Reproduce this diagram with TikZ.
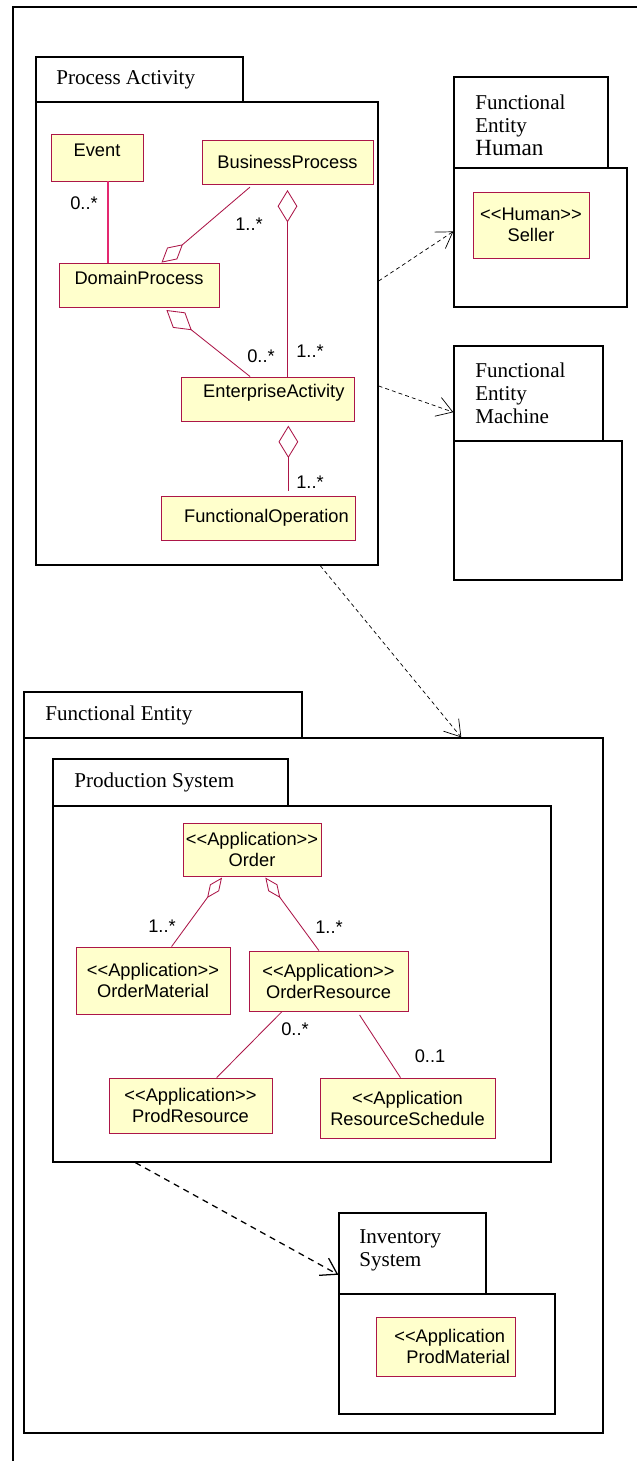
\documentclass[tikz,border=0pt]{standalone}
\usepackage{fontspec}
\setmainfont{Liberation Serif}
\newfontfamily\clsfont{Liberation Sans}[Ligatures=TeXOff]
\usetikzlibrary{arrows.meta,calc,fit}
\definecolor{umlred}{RGB}{172,22,72}
\definecolor{umlyel}{RGB}{255,255,204}
\definecolor{evpink}{RGB}{228,40,112}

\begin{document}
\begin{tikzpicture}[x=0.25mm,y=-0.25mm,
  pkg/.style={draw,line width=0.9pt,fill=white,inner sep=0pt},
  ptitle/.style={font=\fontsize{15}{16.5}\selectfont,anchor=west,align=left,inner sep=0pt},
  cls/.style={draw=umlred,fill=umlyel,line width=0.6pt,inner sep=0pt,align=center,
    font=\clsfont\fontsize{13}{15}\selectfont},
  mult/.style={font=\clsfont\fontsize{13}{15}\selectfont,inner sep=0pt},
  assoc/.style={umlred,line width=0.6pt},
  agg/.style={assoc,{Diamond[open,length=23pt,width=14pt]}-},
  aggs/.style={assoc,{Diamond[open,length=18pt,width=8pt]}-},
  dep/.style={dash pattern=on 2.8pt off 2.2pt,line width=0.5pt,-{Straight Barb[length=11pt,width=14pt]}}]
\useasboundingbox (0,0) rectangle (637,1461);
\draw[line width=0.8pt] (13,1461) -- (13,7) -- (637,7);

\node[pkg,fit={(36,57)(243,102)}] (patab) {};
\node[pkg,fit={(36,102)(378,565)}] (pa) {};
\node[ptitle] (patitle) at (56,80) {Process Activity};

\node[pkg,fit={(454,77)(608,168)}] (humtab) {};
\node[pkg,fit={(454,168)(627,307)}] (hum) {};
\node[ptitle] (humtitle) at (475,125) {Functional\\Entity\\{\fontsize{16.5}{17}\selectfont Human}};

\node[pkg,fit={(454,346)(603,441)}] (mactab) {};
\node[pkg,fit={(454,441)(622,580)}] (mac) {};
\node[ptitle] (mactitle) at (475,393) {Functional\\Entity\\Machine};

\node[pkg,fit={(24,692)(302,738)}] (fetab) {};
\node[pkg,fit={(24,738)(603,1433)}] (fe) {};
\node[ptitle] (fetitle) at (45,715) {Functional Entity};

\node[pkg,fit={(53,759)(288,806)}] (pstab) {};
\node[pkg,fit={(53,806)(551,1162)}] (ps) {};
\node[ptitle] (pstitle) at (74,782) {Production System};

\node[pkg,fit={(339,1213)(486,1294)}] (invtab) {};
\node[pkg,fit={(339,1294)(555,1414)}] (inv) {};
\node[ptitle] (invtitle) at (359,1250) {Inventory\\System};

\node[cls,minimum width=23mm,minimum height=11.75mm,text depth=10pt] (event) at (97,157.5) {Event};
\node[cls,minimum width=42.75mm,minimum height=11mm] (bp) at (287.5,162) {BusinessProcess};
\node[cls,minimum width=40mm,minimum height=11mm,text depth=9.9pt] (dp) at (139,285) {DomainProcess};
\node[cls,minimum width=43.25mm,minimum height=11mm,text depth=11pt] (ea) at (267.5,399) {\hspace*{9pt}EnterpriseActivity};
\node[cls,minimum width=48.5mm,minimum height=11mm] (fo) at (258,518) {\hspace*{12pt}FunctionalOperation};
\node[cls,minimum width=29mm,minimum height=16.5mm] (seller) at (531,225) {<<Human>>\\Seller};

\node[cls,minimum width=34.5mm,minimum height=13.25mm] (order) at (252,849.5) {<<Application>>\\Order};
\node[cls,minimum width=38.5mm,minimum height=16.75mm] (omat) at (153,980.5) {<<Application>>\\OrderMaterial};
\node[cls,minimum width=39.75mm,minimum height=15mm] (ores) at (328.5,981) {<<Application>>\\OrderResource};
\node[cls,minimum width=40.75mm,minimum height=13.75mm] (pres) at (190.5,1105.5) {<<Application>>\\ProdResource};
\node[cls,minimum width=43.75mm,minimum height=15mm] (rsched) at (407.5,1108) {<<Application\\ResourceSchedule};
\node[cls,minimum width=34.75mm,minimum height=14.75mm] (pmat) at (445.5,1346.5) {\hspace*{6pt}<<Application\\\hspace*{18pt}ProdMaterial};

\draw[evpink,line width=1.2pt] ($(event.south west)!0.62!(event.south east)$) coordinate (e1) -- (e1 |- dp.north);
\draw[assoc,{Diamond[open,length=20pt,width=11pt]}-,shorten >=3pt] ($(dp.north west)!0.64!(dp.north east)$) -- ($(bp.south west)!0.30!(bp.south east)$);
\draw[agg,shorten <=4pt] (bp.south) -- (bp.south |- ea.north);
\draw[agg,shorten <=3pt] ($(dp.south west)!0.65!(dp.south east)$) -- ($(ea.north west)!0.40!(ea.north east)$);
\draw[agg,shorten <=3pt,shorten >=3pt] ($(ea.south west)!0.62!(ea.south east)$) coordinate (e2) -- (e2 |- fo.north);

\draw[aggs,shorten <=1pt] ($(order.south west)!0.29!(order.south east)$) -- ($(omat.north west)!0.62!(omat.north east)$);
\draw[aggs,shorten <=1pt] ($(order.south west)!0.59!(order.south east)$) -- ($(ores.north west)!0.44!(ores.north east)$);
\draw[assoc] ($(ores.south west)!0.21!(ores.south east)$) -- ($(pres.north west)!0.66!(pres.north east)$);
\draw[assoc,shorten <=3pt] ($(ores.south west)!0.68!(ores.south east)$) -- ($(rsched.north west)!0.46!(rsched.north east)$);

\node[mult] (m1) at (84,203) {0..*};
\node[mult] (m2) at (249,224) {1..*};
\node[mult] (m3) at (310,351) {1..*};
\node[mult] (m4) at (261,356) {0..*};
\node[mult] (m5) at (310,482) {1..*};
\node[mult] (m6) at (162,926) {1..*};
\node[mult] (m7) at (329,927) {1..*};
\node[mult] (m8) at (295,1029) {0..*};
\node[mult] (m9) at (430,1056) {0..1};

\draw[dep] (pa.17.7) -- (hum.176);
\draw[dep] (pa.-17.7) -- (mactab.194);
\draw[dep] (pa.-64) -- (fe.67.4);
\draw[dep,dash pattern=on 4.3pt off 3.5pt,line width=0.9pt] (ps.-133) -- (invtab.196);
\end{tikzpicture}
\end{document}
